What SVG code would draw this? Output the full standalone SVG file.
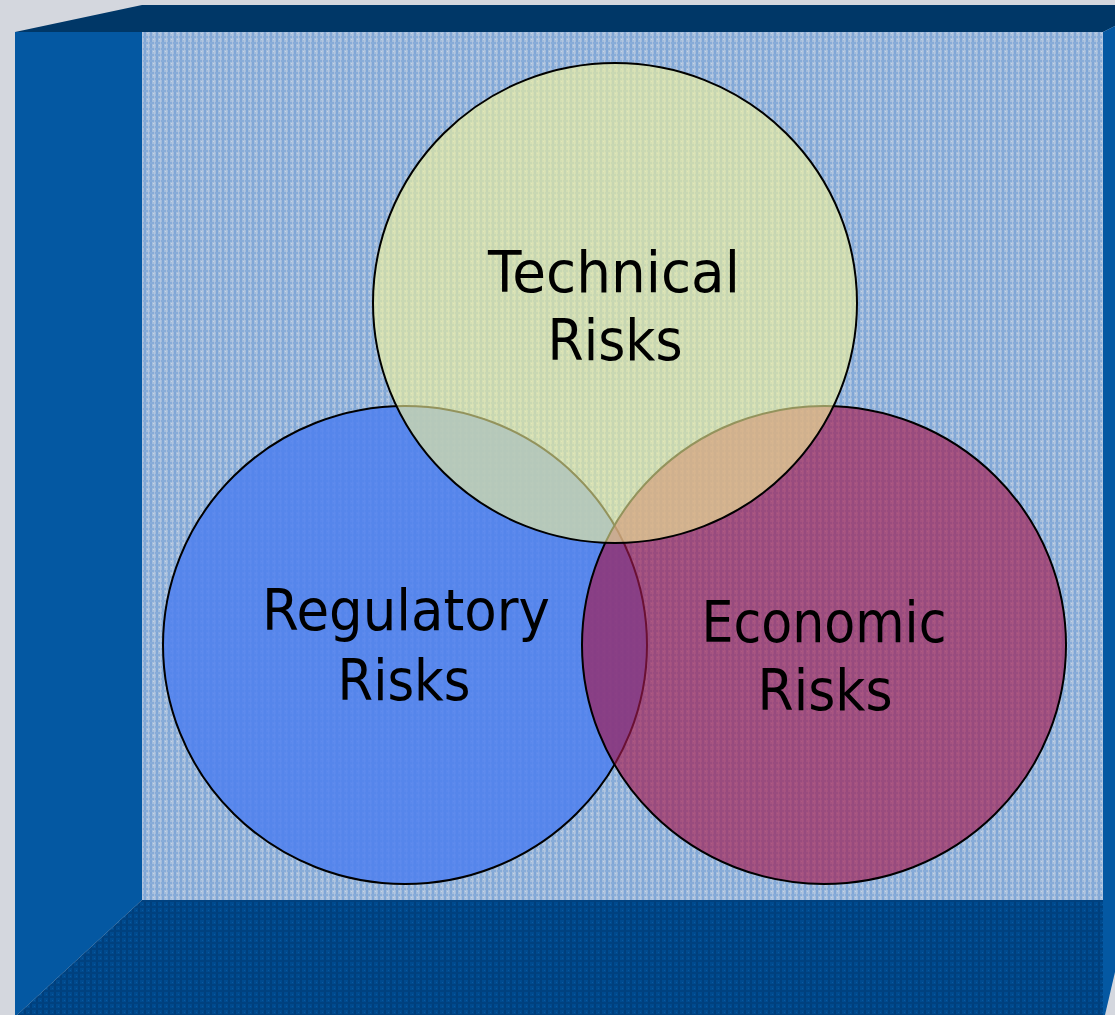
<svg xmlns="http://www.w3.org/2000/svg" width="1115" height="1015" viewBox="0 0 1115 1015">
  <style>
    .lbl { font-family: "Comic Sans MS", "DejaVu Sans", sans-serif; font-size: 57px; fill: #000; text-anchor: middle; }
    .ring { stroke: #000; stroke-width: 2; }
  </style>
  <defs>
    <pattern id="grid" x="0" y="0" width="6" height="6" patternUnits="userSpaceOnUse">
      <rect width="6" height="6" fill="#a3bddc"/>
      <rect x="0" y="0" width="2" height="6" fill="#80a6d6"/>
      <rect x="0" y="0" width="6" height="2" fill="#88acd8"/>
      <rect x="3" y="3" width="1" height="1" fill="#c6d4e6"/>
      <rect x="4" y="0" width="1" height="6" fill="#b8cae2" opacity="0.7"/>
    </pattern>
    <pattern id="darkgrid" x="0" y="0" width="6" height="6" patternUnits="userSpaceOnUse">
      <rect width="6" height="6" fill="#004a8e"/>
      <rect x="0" y="0" width="2" height="6" fill="#003f7c"/>
      <rect x="0" y="0" width="6" height="2" fill="#00417f"/>
      <rect x="4" y="4" width="1" height="1" fill="#0a5aa0"/>
    </pattern>
  </defs>
  <rect width="1115" height="1015" fill="#d4d7de"/>
  <g id="box">
    <polygon points="15,32 142,5 1115,5 1115,26 1103,32" fill="#003767"/>
    <polygon points="15,32 142,32 142,900 17,1015 15,1015" fill="#0458a2"/>
    <polygon points="17,1015 142,900 1103,900 1103,1015" fill="url(#darkgrid)"/>
    <polygon points="1103,32 1115,26 1115,972 1105,1015 1103,1015" fill="#0458a2"/>
    <rect x="142" y="32" width="961" height="868" fill="url(#grid)"/>
  </g>
  <g id="regulatory">
    <ellipse class="ring" cx="405" cy="645" rx="242" ry="239" fill="#4d7fee" fill-opacity="0.85"/>
  </g>
  <g id="economic">
    <ellipse class="ring" cx="824" cy="645" rx="242" ry="239" fill="#a3184e" fill-opacity="0.65"/>
  </g>
  <g id="technical">
    <ellipse class="ring" cx="615" cy="303" rx="242" ry="240" fill="#f5f59a" fill-opacity="0.6"/>
  </g>
  <g id="labels">
    <text class="lbl" x="614" y="292" textLength="252" lengthAdjust="spacingAndGlyphs">Technical</text>
    <text class="lbl" x="615" y="360" textLength="135" lengthAdjust="spacingAndGlyphs">Risks</text>
    <text class="lbl" x="406" y="630" textLength="288" lengthAdjust="spacingAndGlyphs">Regulatory</text>
    <text class="lbl" x="404" y="700" textLength="133" lengthAdjust="spacingAndGlyphs">Risks</text>
    <text class="lbl" x="824" y="642" textLength="245" lengthAdjust="spacingAndGlyphs">Economic</text>
    <text class="lbl" x="825" y="710" textLength="135" lengthAdjust="spacingAndGlyphs">Risks</text>
  </g>
</svg>
